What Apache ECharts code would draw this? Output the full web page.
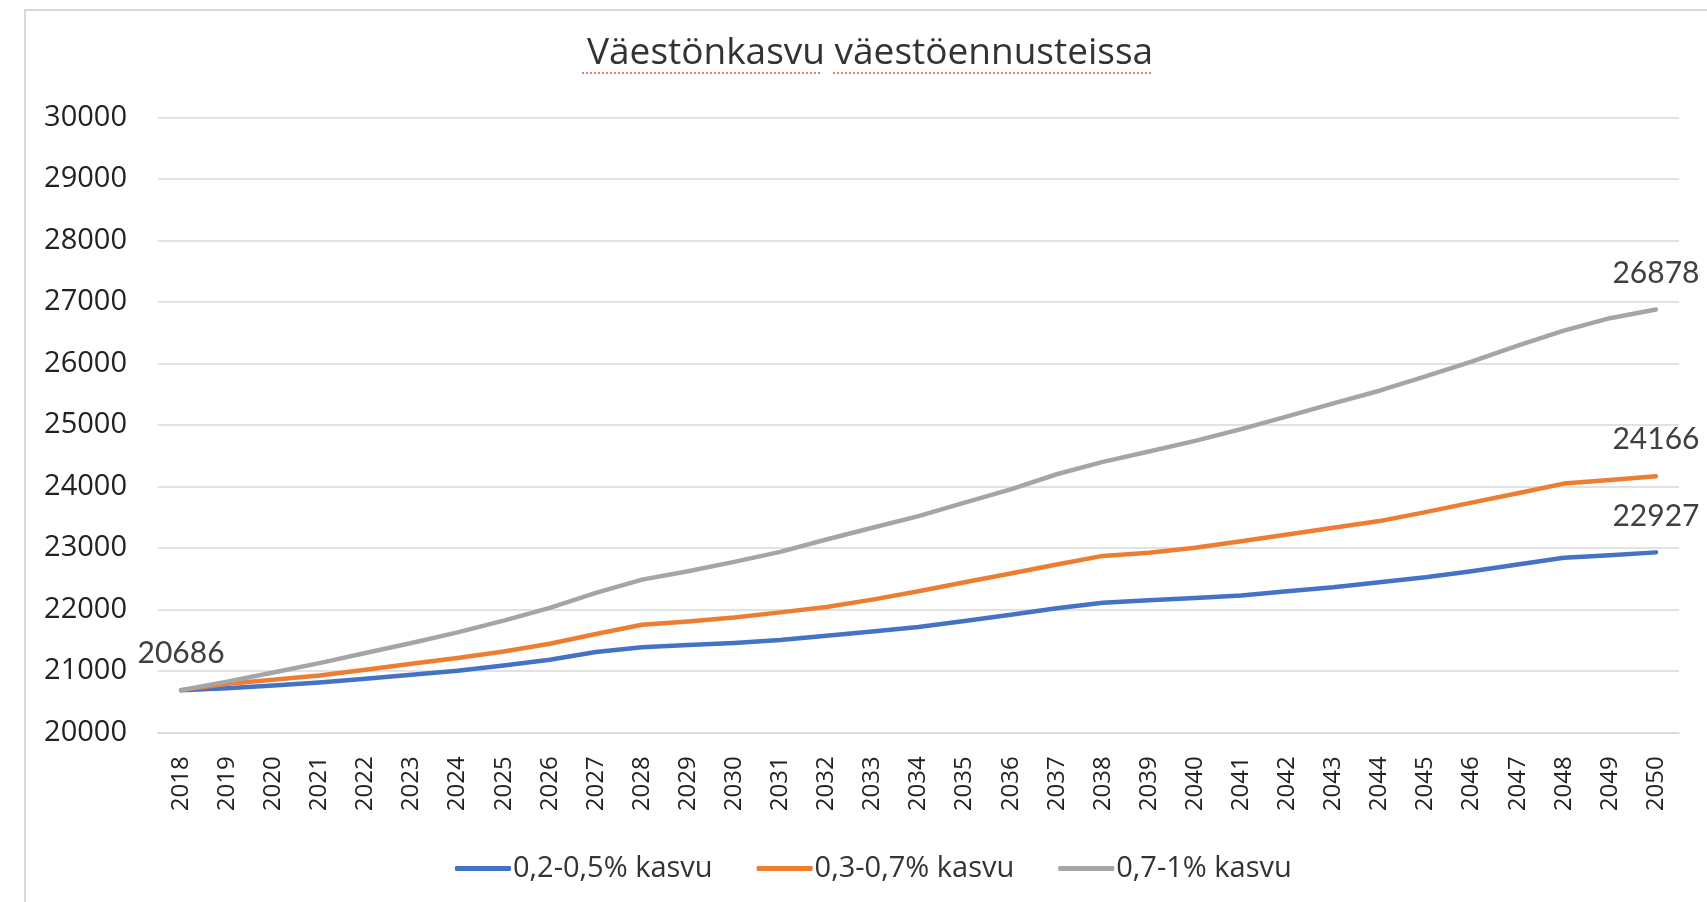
<!DOCTYPE html>
<html>
<head>
<meta charset="utf-8">
<title>Väestönkasvu väestöennusteissa</title>
<script src="https://cdn.jsdelivr.net/npm/echarts@6/dist/echarts.min.js"></script>
<style>
  html, body { margin: 0; padding: 0; background: #fff; }
  #chart { width: 1707px; height: 902px; }
</style>
</head>
<body>
<div id="chart"></div>
<script>
// vuodet
const years = ['2018', '2019', '2020', '2021', '2022', '2023', '2024', '2025', '2026', '2027', '2028',
  '2029', '2030', '2031', '2032', '2033', '2034', '2035', '2036', '2037', '2038',
  '2039', '2040', '2041', '2042', '2043', '2044', '2045', '2046', '2047', '2048', '2049', '2050'];

// sarjat (luettu kuvasta, päätepisteet tarkkoja)
const lowGrowth = [20686, 20718, 20760, 20810, 20870, 20935, 21000, 21087, 21180, 21305, 21385,
  21419, 21452, 21501, 21571, 21641, 21713, 21811, 21914, 22017, 22108,
  22147, 22186, 22224, 22294, 22359, 22441, 22522, 22620, 22729, 22838, 22881, 22927];
const midGrowth = [20686, 20788, 20853, 20923, 21016, 21114, 21207, 21315, 21440, 21598, 21750,
  21804, 21869, 21951, 22039, 22158, 22294, 22441, 22582, 22729, 22870,
  22920, 23001, 23109, 23219, 23328, 23436, 23582, 23736, 23888, 24046, 24104, 24166];
const highGrowth = [20686, 20825, 20972, 21125, 21289, 21452, 21625, 21816, 22023, 22268, 22484,
  22620, 22773, 22936, 23137, 23328, 23517, 23736, 23953, 24198, 24400,
  24568, 24741, 24932, 25139, 25351, 25557, 25791, 26030, 26291, 26535, 26737, 26878];

const seriesNames = ['0,2-0,5% kasvu', '0,3-0,7% kasvu', '0,7-1% kasvu'];
const seriesColors = ['#4472C4', '#ED7D31', '#A5A5A5'];

const chart = echarts.init(document.getElementById('chart'));

// arvolappu vain ensimmäiseen / viimeiseen pisteeseen
function labelled(values, showFirst) {
  return values.map(function (v, i) {
    const isLast = i === values.length - 1;
    const isFirst = i === 0 && showFirst;
    return { value: v, label: { show: isLast || isFirst } };
  });
}

function makeSeries(idx, values, showFirst) {
  return {
    name: seriesNames[idx],
    type: 'line',
    data: labelled(values, showFirst),
    symbol: 'circle',
    symbolSize: 1,
    showSymbol: true,
    smooth: false,
    z: 2 + idx,
    lineStyle: { color: seriesColors[idx], width: 4.5, cap: 'round', join: 'round' },
    itemStyle: { color: seriesColors[idx] },
    label: {
      show: false,
      position: 'top',
      distance: 21,
      color: '#404040',
      fontFamily: 'Lato',
      fontSize: 30
    },
    emphasis: { disabled: true }
  };
}

let option = {
  animation: false,
  backgroundColor: '#fff',
  title: {
    text: 'Väestönkasvu väestöennusteissa',
    left: 582,
    top: 30,
    textStyle: {
      color: '#333',
      fontFamily: 'Open Sans',
      fontWeight: 'normal',
      fontSize: 37
    }
  },
  grid: {
    left: 158,
    right: 28,
    top: 117.6,
    bottom: 169.7,
    containLabel: false,
    outerBoundsMode: 'none'
  },
  legend: {
    bottom: 14,
    left: 450,
    itemWidth: 56,
    itemHeight: 5,
    itemGap: 44,
    icon: 'roundRect',
    data: seriesNames,
    textStyle: {
      color: '#333',
      fontFamily: 'Open Sans',
      fontSize: 29,
      padding: [0, 0, 0, -3]
    }
  },
  xAxis: {
    type: 'category',
    data: years,
    boundaryGap: true,
    axisLine: { show: true, lineStyle: { color: '#d9d9d9', width: 1.5 } },
    axisTick: { show: false },
    axisLabel: {
      interval: 0,
      rotate: 90,
      margin: 24,
      color: '#222',
      fontFamily: 'Open Sans',
      fontSize: 24
    }
  },
  yAxis: {
    type: 'value',
    min: 20000,
    max: 30000,
    interval: 1000,
    axisLine: { show: false },
    axisTick: { show: false },
    axisLabel: {
      margin: 31,
      color: '#222',
      fontFamily: 'Open Sans',
      fontSize: 29,
      formatter: function (v) { return String(v); }
    },
    splitLine: { lineStyle: { color: '#d9d9d9', width: 1.5 } }
  },
  series: [
    makeSeries(0, lowGrowth, false),
    makeSeries(1, midGrowth, false),
    makeSeries(2, highGrowth, true)
  ],
  graphic: [
    {
      type: 'rect',
      silent: true,
      shape: { x: 25, y: 10, width: 1720, height: 920 },
      style: { fill: 'none', stroke: '#d9d9d9', lineWidth: 2 },
      z: -1
    },
    // oikoluvun punainen alleviivaus otsikossa
    {
      type: 'line',
      silent: true,
      shape: { x1: 582, y1: 73, x2: 822, y2: 73 },
      style: { stroke: '#e05050', lineWidth: 1.5, lineDash: [2, 2] }
    },
    {
      type: 'line',
      silent: true,
      shape: { x1: 833, y1: 73, x2: 1151, y2: 73 },
      style: { stroke: '#e05050', lineWidth: 1.5, lineDash: [2, 2] }
    }
  ]
};

chart.setOption(option);
window.addEventListener('resize', function () {
  chart.resize();
});
</script>
</body>
</html>
